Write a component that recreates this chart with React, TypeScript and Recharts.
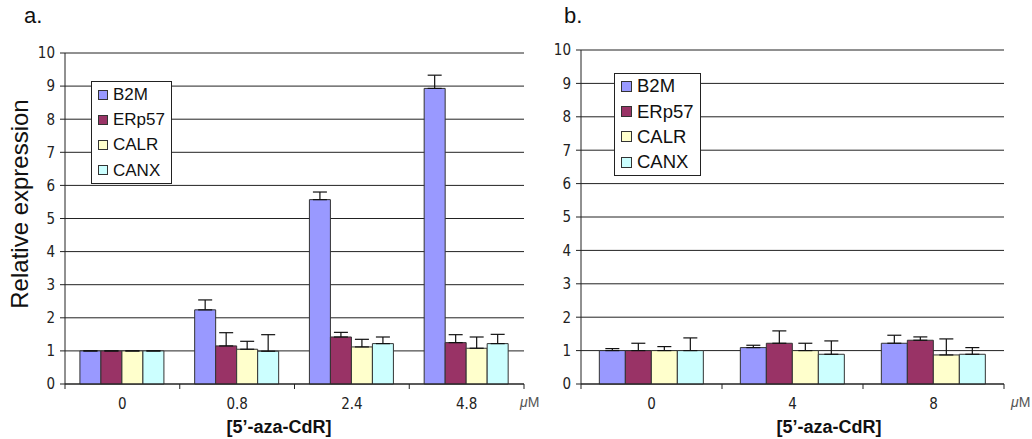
import React from "react";
import { Bar, BarChart, CartesianGrid, ErrorBar, Legend, XAxis, YAxis } from "recharts";

// panel a: 5'-aza-CdR doses (µM)
const dosesA = ["0", "0.8", "2.4", "4.8"];
const b2mA = [1, 2.24, 5.57, 8.93];
const b2mErrA = [0, 0.3, 0.23, 0.4];
const erp57A = [1, 1.15, 1.42, 1.25];
const erp57ErrA = [0, 0.4, 0.14, 0.24];
const calrA = [1, 1.05, 1.12, 1.08];
const calrErrA = [0, 0.24, 0.23, 0.34];
const canxA = [1, 0.99, 1.22, 1.22];
const canxErrA = [0, 0.5, 0.2, 0.28];

// panel b
const dosesB = ["0", "4", "8"];
const b2mB = [1, 1.09, 1.22];
const b2mErrB = [0.06, 0.07, 0.24];
const erp57B = [1, 1.22, 1.31];
const erp57ErrB = [0.22, 0.37, 0.1];
const calrB = [1, 1.0, 0.87];
const calrErrB = [0.12, 0.22, 0.48];
const canxB = [1, 0.89, 0.89];
const canxErrB = [0.38, 0.4, 0.2];

const yTicks = [0, 1, 2, 3, 4, 5, 6, 7, 8, 9, 10];

const SERIES = [
  { key: "B2M", color: "#9999FF" },
  { key: "ERp57", color: "#993366" },
  { key: "CALR", color: "#FFFFCC" },
  { key: "CANX", color: "#CCFFFF" },
];

const NARROW = "'Liberation Sans Narrow', 'Arial Narrow', 'DejaVu Sans Condensed', sans-serif";
const ARIAL = "'Liberation Sans', Arial, sans-serif";
const INK = "#222";

function buildRows(doses: string[], vals: number[][], errs: number[][]) {
  return doses.map((dose, i) => {
    const row: Record<string, any> = { dose };
    SERIES.forEach((s, k) => {
      row[s.key] = vals[k][i];
      row[s.key + "_err"] = [0, errs[k][i]];
    });
    return row;
  });
}

const dataA = buildRows(dosesA, [b2mA, erp57A, calrA, canxA], [b2mErrA, erp57ErrA, calrErrA, canxErrA]);
const dataB = buildRows(dosesB, [b2mB, erp57B, calrB, canxB], [b2mErrB, erp57ErrB, calrErrB, canxErrB]);

function DoseTick(props: any) {
  const { x, y, payload, half, last } = props;
  const off = payload?.offset || half;
  return (
    <g>
      <line x1={x - off} x2={x - off} y1={y} y2={y + 5} stroke={INK} />
      {payload.value === last && <line x1={x + off} x2={x + off} y1={y} y2={y + 5} stroke={INK} />}
      <text x={x} y={y + 25} textAnchor="middle" fontSize={15} fontFamily={NARROW} fill={INK}>
        {payload.value}
      </text>
    </g>
  );
}

function LegendBox({ fontSize, swatch }: { fontSize: number; swatch: number }) {
  return (
    <div style={{ border: "1px solid #222", background: "#fff", padding: "0 6px 0 6px" }}>
      {SERIES.map((s) => (
        <div key={s.key} style={{ display: "flex", alignItems: "center", height: 25.2 }}>
          <span
            style={{
              width: swatch,
              height: swatch,
              background: s.color,
              border: "1px solid #333",
              boxSizing: "border-box",
              marginRight: 5,
            }}
          />
          <span style={{ fontFamily: ARIAL, fontSize, color: "#111", lineHeight: 1 }}>{s.key}</span>
        </div>
      ))}
    </div>
  );
}

function Panel({ data, width, yWidth, top, plotRight, last, legendPos, legendFont, swatch }: any) {
  const plotW = plotRight - yWidth;
  const half = plotW / data.length / 2;
  return (
    <BarChart
      width={width}
      height={439}
      data={data}
      margin={{ top, right: width - plotRight, left: 0, bottom: 0 }}
      barCategoryGap="13%"
      barGap={0}
    >
      <CartesianGrid vertical={false} stroke={INK} />
      <XAxis
        dataKey="dose"
        height={439 - 384}
        axisLine={{ stroke: INK }}
        tickLine={false}
        tickSize={0}
        tickMargin={0}
        interval={0}
        tick={<DoseTick half={half} last={last} />}
      />
      <YAxis
        domain={[0, 10]}
        ticks={yTicks}
        width={yWidth}
        axisLine={{ stroke: INK }}
        tickLine={{ stroke: INK }}
        tickSize={5}
        tickMargin={5}
        tick={{ fontSize: 15, fontFamily: NARROW, fill: INK }}
        interval={0}
      />
      <Legend
        layout="vertical"
        align="center"
        verticalAlign="middle"
        wrapperStyle={{ left: legendPos[0], top: legendPos[1], width: "auto", height: "auto" }}
        content={() => <LegendBox fontSize={legendFont} swatch={swatch} />}
      />
      {SERIES.map((s) => (
        <Bar key={s.key} dataKey={s.key} fill={s.color} stroke="#333" strokeWidth={1} isAnimationActive={false}>
          <ErrorBar dataKey={s.key + "_err"} width={7} stroke="#111" strokeWidth={1.2} isAnimationActive={false} />
        </Bar>
      ))}
    </BarChart>
  );
}

const abs = (left: number, top: number): React.CSSProperties => ({ position: "absolute", left, top });

const titleStyle = (cx: number): React.CSSProperties => ({
  position: "absolute",
  left: cx,
  top: 427,
  transform: "translate(-50%, -50%)",
  fontFamily: ARIAL,
  fontSize: 18,
  fontWeight: 700,
  whiteSpace: "nowrap",
  color: "#111",
});

export default function App() {
  return (
    <div style={{ position: "absolute", left: 0, top: 0, width: 1032, height: 439, background: "#fff", overflow: "hidden" }}>
      <div style={abs(0, 0)}>
        <Panel
          data={dataA}
          width={530}
          yWidth={65}
          top={53}
          plotRight={524}
          last="4.8"
          legendPos={[91, 81]}
          legendFont={17}
          swatch={10}
        />
      </div>
      <div style={abs(530, 0)}>
        <Panel
          data={dataB}
          width={502}
          yWidth={51}
          top={50}
          plotRight={474}
          last="8"
          legendPos={[84, 73]}
          legendFont={18.5}
          swatch={11}
        />
      </div>

      <div style={{ ...abs(24, 3), fontFamily: ARIAL, fontSize: 22, color: "#111" }}>a.</div>
      <div style={{ ...abs(564, 3), fontFamily: ARIAL, fontSize: 22, color: "#111" }}>b.</div>

      <div
        style={{
          position: "absolute",
          left: 20,
          top: 204,
          transform: "translate(-50%, -50%) rotate(-90deg)",
          fontFamily: ARIAL,
          fontSize: 24,
          whiteSpace: "nowrap",
          color: "#111",
        }}
      >
        Relative expression
      </div>

      <div style={titleStyle(279)}>[5’-aza-CdR]</div>
      <div style={titleStyle(829)}>[5’-aza-CdR]</div>

      <div style={{ ...abs(520, 394), fontFamily: ARIAL, fontSize: 14, color: "#555" }}>
        <i>μ</i>M
      </div>
      <div style={{ ...abs(1011, 394), fontFamily: ARIAL, fontSize: 14, color: "#555" }}>
        <i>μ</i>M
      </div>
    </div>
  );
}
